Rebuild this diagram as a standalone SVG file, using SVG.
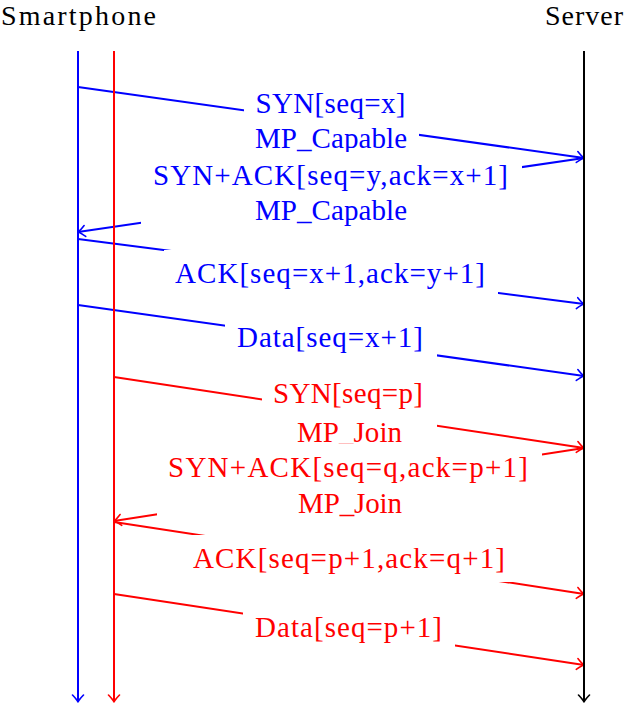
<svg xmlns="http://www.w3.org/2000/svg" width="625" height="703" viewBox="0 0 625 703">
<style>
text{font-family:"Liberation Serif","DejaVu Serif","Noto Serif","Times New Roman",serif;font-size:29px;text-anchor:middle}
.tb{fill:#0000ff}.tr{fill:#ff0000}.tk{fill:#000}
.hd{font-size:28px}
.box{fill:#fff;stroke:none}
.mb{stroke:#0000ff;stroke-width:2;fill:none;marker-end:url(#ab)}
.mr{stroke:#ff0000;stroke-width:2;fill:none;marker-end:url(#ar)}
.lb{stroke:#0000ff;stroke-width:2;fill:none;marker-end:url(#ab)}
.lr{stroke:#ff0000;stroke-width:2;fill:none;marker-end:url(#ar)}
.lk{stroke:#000;stroke-width:2;fill:none;marker-end:url(#ak)}
.head{fill:none;stroke-width:1.6;stroke-linecap:round;stroke-linejoin:round}
</style>
<defs>
<marker id="ab" markerUnits="userSpaceOnUse" viewBox="-10 -10 20 20" markerWidth="20" markerHeight="20" refX="0" refY="0" orient="auto" overflow="visible"><path class="head" stroke="#0000ff" d="M-7,-5.5 Q-2.5,-1.2 0,0 Q-2.5,1.2 -7,5.5"/></marker>
<marker id="ar" markerUnits="userSpaceOnUse" viewBox="-10 -10 20 20" markerWidth="20" markerHeight="20" refX="0" refY="0" orient="auto" overflow="visible"><path class="head" stroke="#ff0000" d="M-7,-5.5 Q-2.5,-1.2 0,0 Q-2.5,1.2 -7,5.5"/></marker>
<marker id="ak" markerUnits="userSpaceOnUse" viewBox="-10 -10 20 20" markerWidth="20" markerHeight="20" refX="0" refY="0" orient="auto" overflow="visible"><path class="head" stroke="#000" d="M-7,-5.5 Q-2.5,-1.2 0,0 Q-2.5,1.2 -7,5.5"/></marker>
</defs>
<g id="connectors">
<g id="msg1">
<line class="mb" x1="78" y1="87" x2="584" y2="158"/>
<rect class="box" x="244" y="80" width="175" height="82"/>
<text class="tb" x="330.5" y="113" textLength="150">SYN[seq=x]</text>
<text class="tb" x="331" y="148" textLength="152">MP_Capable</text>
</g>
<g id="msg2">
<line class="mb" x1="584" y1="158" x2="78" y2="232"/>
<rect class="box" x="141" y="152" width="381" height="82"/>
<text class="tb" x="330.5" y="185" textLength="355">SYN+ACK[seq=y,ack=x+1]</text>
<text class="tb" x="331" y="220" textLength="152">MP_Capable</text>
</g>
<g id="msg3">
<line class="mb" x1="78" y1="239" x2="584" y2="304"/>
<rect class="box" x="164" y="250" width="334" height="47"/>
<text class="tb" x="330" y="283" textLength="310">ACK[seq=x+1,ack=y+1]</text>
</g>
<g id="msg4">
<line class="mb" x1="78" y1="305" x2="584" y2="376"/>
<rect class="box" x="225" y="314" width="212" height="47"/>
<text class="tb" x="330" y="347" textLength="186">Data[seq=x+1]</text>
</g>
<g id="msg5">
<line class="mr" x1="114" y1="377" x2="584" y2="448"/>
<rect class="box" x="262" y="370" width="175" height="86"/>
<text class="tr" x="348" y="403" textLength="150">SYN[seq=p]</text>
<text class="tr" x="349.5" y="442" textLength="105">MP_Join</text>
</g>
<g id="msg6">
<line class="mr" x1="584" y1="448" x2="114" y2="521"/>
<rect class="box" x="157" y="444" width="385" height="79"/>
<text class="tr" x="348" y="477" textLength="360">SYN+ACK[seq=q,ack=p+1]</text>
<text class="tr" x="350" y="513" textLength="104">MP_Join</text>
</g>
<g id="msg7">
<line class="mr" x1="114" y1="522" x2="584" y2="594"/>
<rect class="box" x="181" y="535" width="336" height="47"/>
<text class="tr" x="349" y="568" textLength="312">ACK[seq=p+1,ack=q+1]</text>
</g>
<g id="msg8">
<line class="mr" x1="114" y1="594" x2="584" y2="665"/>
<rect class="box" x="243" y="604" width="212" height="47"/>
<text class="tr" x="348.5" y="637" textLength="187">Data[seq=p+1]</text>
</g>
</g>
<g id="smartphone">
<text class="tk hd" x="78.5" y="25" textLength="155">Smartphone</text>
<line class="lb" x1="78" y1="51" x2="78" y2="702"/>
<line class="lr" x1="114" y1="51" x2="114" y2="702"/>
</g>
<g id="server">
<text class="tk hd" x="584" y="25" textLength="78">Server</text>
<line class="lk" x1="584" y1="51" x2="584" y2="702"/>
</g>
</svg>
